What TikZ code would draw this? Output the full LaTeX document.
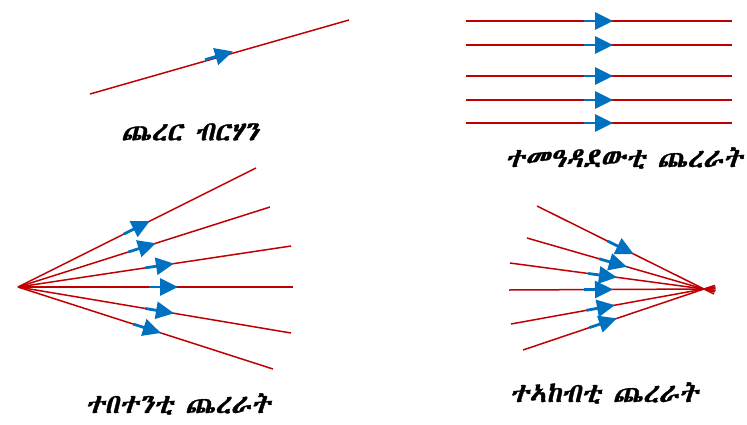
\documentclass[tikz,border=0pt]{standalone}
\usepackage{fontspec}
\usetikzlibrary{arrows.meta,calc}
\newfontfamily\ethfont[FakeSlant=0.2,FakeBold=1.2]{Abyssinica SIL}
\definecolor{rayred}{HTML}{C00000}
\definecolor{arrblue}{HTML}{0070C0}
\tikzset{
  ray/.style={draw=rayred, line width=1.5pt},
  rayarrow/.style={draw=arrblue, line width=2.8pt, -{Triangle[length=18pt,width=17pt]}, shorten >=-2pt},
  lbl/.style={font=\ethfont\fontsize{27}{30}\selectfont, inner sep=0pt}
}
\newcommand\rayarr[2]{\draw[rayarrow] ($(#1)!27pt!(#2)$) -- (#1);}
\begin{document}
\begin{tikzpicture}[x=1pt,y=-1pt]
\useasboundingbox (0,0) rectangle (747,424);
% single ray
\coordinate (a0) at (90,94);
\coordinate (a1) at (349,20);
\coordinate (at) at (231,52);
\draw[ray] (a0) -- (a1);
\rayarr{at}{a0}
\node[lbl] (l1) at (190,132) {ጨረር ብርሃን};
% parallel rays
\foreach \i/\y in {1/21,2/45,3/76,4/100,5/123}{
  \coordinate (p\i s) at (466,\y);
  \coordinate (p\i e) at (732,\y);
  \coordinate (p\i t) at (611,\y);
  \draw[ray] (p\i s) -- (p\i e);
  \rayarr{p\i t}{p\i s}
}
\node[lbl] (l2) at (624,158) {ተመዓዳደውቲ ጨረራት};
% divergent rays
\coordinate (d0) at (18,287);
\foreach \i/\ex/\ey/\tx in {1/256/168/148,2/270/207/154,3/291/246/172,4/293/287/176,5/291/333/172,6/273/369/159}{
  \coordinate (d\i e) at (\ex,\ey);
  \draw[ray] (d0) -- (d\i e);
  \coordinate (d\i t) at ($(d0)!{(\tx-18)/(\ex-18)}!(d\i e)$);
  \rayarr{d\i t}{d0}
}
\node[lbl] (l3) at (178,404) {ተበተንቲ ጨረራት};
% convergent rays
\coordinate (f) at (704,289);
\foreach \i/\sx/\sy/\tx in {1/537/206/632,2/527/238/625,3/510/263/615,4/509/290/611,5/511/324/613,6/523/350/615}{
  \coordinate (c\i s) at (\sx,\sy);
  \draw[ray] (c\i s) -- ($(c\i s)!1.06!(f)$);
  \coordinate (c\i t) at ($(c\i s)!{(\tx-\sx)/(704-\sx)}!(f)$);
  \rayarr{c\i t}{c\i s}
}
\node[lbl] (l4) at (604,393) {ተኣከብቲ ጨረራት};
\end{tikzpicture}
\end{document}
